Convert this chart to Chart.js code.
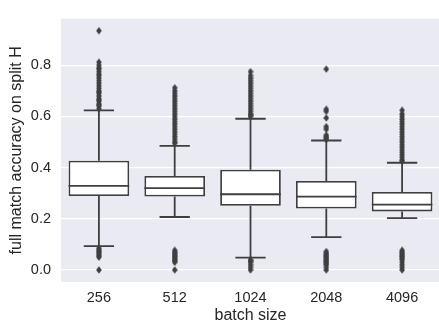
<!DOCTYPE html>
<html>
<head>
<meta charset="utf-8">
<script src="https://cdn.jsdelivr.net/npm/chart.js@4/dist/chart.umd.min.js"></script>
<style>
  html, body { margin: 0; padding: 0; background: #fff; overflow: hidden; }
  #wrap { width: 445px; height: 325px; }
</style>
</head>
<body>
<div id="wrap"><canvas id="boxChart" width="445" height="325"></canvas></div>
<script>
// categorias y estadisticas de cada caja
var batchSizes = ['256', '512', '1024', '2048', '4096'];
var q1 = [0.289, 0.287, 0.251, 0.240, 0.229];
var medianas = [0.329, 0.320, 0.296, 0.287, 0.255];
var q3 = [0.427, 0.367, 0.392, 0.348, 0.305];
var bigoteBajo = [0.093, 0.207, 0.048, 0.128, 0.203];
var bigoteAlto = [0.624, 0.485, 0.591, 0.506, 0.419];

// valores atipicos por categoria
var atipicos256 = [0.935, 0.812, 0.80, 0.79, 0.785, 0.775, 0.765, 0.76, 0.75, 0.74, 0.73, 0.72, 0.71, 0.70, 0.695, 0.69, 0.68, 0.67, 0.665, 0.66, 0.65, 0.645, 0.64, 0.63,
    0.085, 0.08, 0.075, 0.07, 0.065, 0.06, 0.055, 0.05, 0.0];
var atipicos512 = [0.712, 0.70, 0.69, 0.68, 0.67, 0.66, 0.65, 0.64, 0.63, 0.62, 0.61, 0.60, 0.59, 0.58, 0.57, 0.56, 0.55, 0.54, 0.53, 0.52, 0.51, 0.50, 0.495,
    0.077, 0.07, 0.065, 0.06, 0.055, 0.05, 0.045, 0.04, 0.035, 0.03, 0.0];
var atipicos1024 = [0.775, 0.76, 0.75, 0.74, 0.73, 0.72, 0.71, 0.70, 0.69, 0.68, 0.67, 0.66, 0.65, 0.64, 0.63, 0.62, 0.61, 0.605, 0.60,
    0.04, 0.035, 0.03, 0.02, 0.01, 0.0];
var atipicos2048 = [0.785, 0.628, 0.62, 0.594, 0.56, 0.55, 0.527, 0.52, 0.515, 0.51,
    0.072, 0.065, 0.06, 0.055, 0.05, 0.045, 0.04, 0.035, 0.03, 0.025, 0.02, 0.01, 0.0];
var atipicos4096 = [0.624, 0.61, 0.60, 0.59, 0.58, 0.57, 0.56, 0.55, 0.54, 0.53, 0.52, 0.51, 0.50, 0.49, 0.48, 0.47, 0.46, 0.45, 0.44, 0.43, 0.425,
    0.077, 0.07, 0.065, 0.06, 0.055, 0.05, 0.045, 0.04, 0.03, 0.02, 0.01, 0.0];
var atipicos = [atipicos256, atipicos512, atipicos1024, atipicos2048, atipicos4096];

var yTicks = [0.0, 0.2, 0.4, 0.6, 0.8];
var yMin = -0.047;
var yMax = 0.982;

var colorLinea = '#3f3f3f';
var colorTexto = '#262626';
var fuente = 'Liberation Sans, Arial, sans-serif';

// puntos atipicos como lista {x, y}
var puntosAtipicos = [];
for (var i = 0; i < batchSizes.length; i++) {
    for (var j = 0; j < atipicos[i].length; j++) {
        puntosAtipicos.push({x: batchSizes[i], y: atipicos[i][j]});
    }
}

// marcador de diamante delgado (como el 'd' de matplotlib)
var diamante = document.createElement('canvas');
diamante.width = 6;
diamante.height = 8;
var dctx = diamante.getContext('2d');
dctx.fillStyle = colorLinea;
dctx.beginPath();
dctx.moveTo(3, 0.2);
dctx.lineTo(5.8, 4);
dctx.lineTo(3, 7.8);
dctx.lineTo(0.2, 4);
dctx.closePath();
dctx.fill();

// fondo gris-lavanda del area de trazado
var fondoPlugin = {
    id: 'fondo',
    beforeDraw: function(chart) {
        var a = chart.chartArea;
        var ctx = chart.ctx;
        ctx.save();
        ctx.fillStyle = '#eaeaf2';
        ctx.fillRect(a.left, a.top, a.right - a.left, a.bottom - a.top);
        ctx.restore();
    }
};

// bigotes, topes y medianas
var bigotesPlugin = {
    id: 'bigotes',
    afterDatasetsDraw: function(chart) {
        var ctx = chart.ctx;
        var xs = chart.scales.x;
        var ys = chart.scales.y;
        var meta = chart.getDatasetMeta(0);
        ctx.save();
        ctx.strokeStyle = colorLinea;
        ctx.lineWidth = 1.8;
        for (var i = 0; i < batchSizes.length; i++) {
            var cx = xs.getPixelForValue(i);
            var mitad = meta.data[i].width / 2;
            var tope = mitad / 2;
            ctx.beginPath();
            ctx.moveTo(cx, ys.getPixelForValue(q3[i]));
            ctx.lineTo(cx, ys.getPixelForValue(bigoteAlto[i]));
            ctx.moveTo(cx, ys.getPixelForValue(q1[i]));
            ctx.lineTo(cx, ys.getPixelForValue(bigoteBajo[i]));
            ctx.moveTo(cx - tope, ys.getPixelForValue(bigoteAlto[i]));
            ctx.lineTo(cx + tope, ys.getPixelForValue(bigoteAlto[i]));
            ctx.moveTo(cx - tope, ys.getPixelForValue(bigoteBajo[i]));
            ctx.lineTo(cx + tope, ys.getPixelForValue(bigoteBajo[i]));
            ctx.moveTo(cx - mitad, ys.getPixelForValue(medianas[i]));
            ctx.lineTo(cx + mitad, ys.getPixelForValue(medianas[i]));
            ctx.stroke();
        }
        ctx.restore();
    }
};

const data = {
    labels: batchSizes,
    datasets: [{
        type: 'bar',
        label: 'caja',
        data: q1.map(function(v, i) { return [v, q3[i]]; }),
        backgroundColor: '#ffffff',
        borderColor: colorLinea,
        borderWidth: 1.8,
        borderSkipped: false,
        categoryPercentage: 0.8,
        barPercentage: 1.0,
        order: 2
    }, {
        type: 'line',
        label: 'atipicos',
        data: puntosAtipicos,
        showLine: false,
        pointStyle: diamante,
        pointRadius: 3,
        order: 1
    }]
};

const config = {
    type: 'bar',
    data: data,
    options: {
        responsive: false,
        animation: false,
        layout: { padding: { top: 10, left: 0, right: 0, bottom: 0 } },
        plugins: {
            legend: { display: false },
            tooltip: { enabled: false }
        },
        scales: {
            x: {
                grid: { display: false, drawTicks: false },
                border: { display: false },
                ticks: { color: colorTexto, font: { family: fuente, size: 14.5 }, padding: 7 },
                title: {
                    display: true,
                    text: 'batch size',
                    color: colorTexto,
                    font: { family: fuente, size: 16 },
                    padding: { top: 0, bottom: 0 }
                },
                afterFit: function(s) { s.height = 43; }
            },
            y: {
                min: yMin,
                max: yMax,
                grid: { color: '#ffffff', lineWidth: 1.2, drawTicks: false },
                border: { display: false },
                afterBuildTicks: function(s) {
                    s.ticks = yTicks.map(function(v) { return {value: v}; });
                },
                ticks: {
                    color: colorTexto,
                    font: { family: fuente, size: 14.5 },
                    padding: 10,
                    callback: function(v) { return Number(v).toFixed(1); }
                },
                title: {
                    display: true,
                    text: 'full match accuracy on split H',
                    color: colorTexto,
                    font: { family: fuente, size: 16 },
                    padding: { top: 6.5, bottom: 0 }
                },
                afterFit: function(s) { s.width = 61; }
            }
        }
    },
    plugins: [fondoPlugin, bigotesPlugin]
};

const ctx = document.getElementById('boxChart').getContext('2d');
new Chart(ctx, config);
</script>
</body>
</html>
